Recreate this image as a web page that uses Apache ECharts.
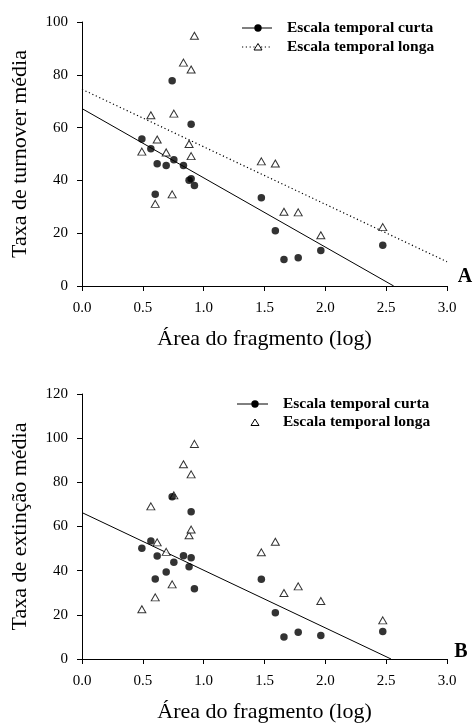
<!DOCTYPE html>
<html>
<head>
<meta charset="utf-8">
<script src="https://cdn.jsdelivr.net/npm/echarts@6/dist/echarts.min.js"></script>
<style>
html,body{margin:0;padding:0;background:#fff;}
#chart{width:474px;height:727px;}
</style>
</head>
<body>
<div id="chart"></div>
<script>
// ---- data ----
const areaLog = [0.492,0.566,0.602,0.618,0.692,0.741,0.755,0.834,0.880,0.897,0.897,0.924,1.474,1.589,1.660,1.777,1.963,2.472];
const turnoverCurta = [55.7,52.0,34.8,46.3,45.6,77.7,47.8,45.6,40.1,40.6,61.3,38.1,33.4,20.9,10.0,10.7,13.4,15.4];
const turnoverLonga = [50.9,64.7,31.1,55.5,50.6,34.7,65.3,84.6,53.8,82.0,49.2,94.8,47.2,46.4,28.1,27.9,19.2,22.3];
const extincaoCurta = [50.1,53.4,36.2,46.6,39.4,73.5,43.8,46.8,41.8,45.9,66.7,31.8,36.1,21.0,10.0,12.1,10.6,12.4];
const extincaoLonga = [22.5,69.1,27.9,52.8,48.5,33.8,74.1,88.2,56.0,83.6,58.6,97.4,48.3,53.1,29.9,32.9,26.3,17.5];
// regression lines: [x, y] endpoints
const fitTurnoverCurta = [[0, 67.2], [2.562, 0]];
const fitTurnoverLonga = [[0, 74.5], [3.0, 9.2]];
const fitExtincaoCurta = [[0, 66.3], [2.54, 0]];
const xTicks = ['0.0','0.5','1.0','1.5','2.0','2.5','3.0'];
const seriesNames = ['Escala temporal curta','Escala temporal longa'];
const xTitle = 'Área do fragmento (log)';
const yTitles = ['Taxa de turnover média','Taxa de extinção média'];
const panelLabels = ['A','B'];

const FONT = '"Liberation Serif","Times New Roman",serif';
const pair = (ys) => areaLog.map((x, i) => [x, ys[i]]);

function xAxisFor(idx) {
  return {
    gridIndex: idx, type: 'value', min: 0, max: 3, interval: 0.5,
    name: xTitle, nameLocation: 'middle', nameGap: 42,
    nameTextStyle: {fontFamily: FONT, fontSize: 22, color: '#000'},
    axisLine: {show: true, lineStyle: {color: '#000', width: 1}},
    axisTick: {show: true, length: 5, inside: false, lineStyle: {color: '#000'}},
    axisLabel: {fontFamily: FONT, fontSize: 15, color: '#000', margin: 15,
      formatter: (v) => xTicks[Math.round(v / 0.5)]},
    splitLine: {show: false}
  };
}
function yAxisFor(idx, max) {
  return {
    gridIndex: idx, type: 'value', min: 0, max: max, interval: 20,
    name: yTitles[idx], nameLocation: 'middle', nameGap: 51,
    nameTextStyle: {fontFamily: FONT, fontSize: 22, color: '#000'},
    axisLine: {show: true, lineStyle: {color: '#000', width: 1}},
    axisTick: {show: true, length: 5, inside: false, lineStyle: {color: '#000'}},
    axisLabel: {fontFamily: FONT, fontSize: 15, color: '#000', margin: 14},
    splitLine: {show: false}
  };
}
const circleStyle = {color: '#000'};
const triStyle = {color: '#fff', borderColor: '#000', borderWidth: 1};

const option = {
  animation: false,
  backgroundColor: '#fff',
  grid: [
    {left: 82, top: 22, width: 365, height: 264},
    {left: 82, top: 394, width: 365, height: 265}
  ],
  xAxis: [xAxisFor(0), xAxisFor(1)],
  yAxis: [yAxisFor(0, 100), yAxisFor(1, 120)],
  series: [
    {type: 'line', xAxisIndex: 0, yAxisIndex: 0, data: fitTurnoverCurta, symbol: 'none',
      lineStyle: {color: '#000', width: 1}, silent: true, z: 1},
    {type: 'line', xAxisIndex: 0, yAxisIndex: 0, data: fitTurnoverLonga, symbol: 'none',
      lineStyle: {color: '#000', width: 1.2, type: [1.2, 2.6]}, silent: true, z: 1},
    {name: seriesNames[0], type: 'scatter', xAxisIndex: 0, yAxisIndex: 0, data: pair(turnoverCurta),
      symbol: 'circle', symbolSize: 7.5, itemStyle: circleStyle, z: 3},
    {name: seriesNames[1], type: 'scatter', xAxisIndex: 0, yAxisIndex: 0, data: pair(turnoverLonga),
      symbol: 'triangle', symbolSize: [8, 7], itemStyle: triStyle, z: 2},
    {type: 'line', xAxisIndex: 1, yAxisIndex: 1, data: fitExtincaoCurta, symbol: 'none',
      lineStyle: {color: '#000', width: 1}, silent: true, z: 1},
    {name: seriesNames[0], type: 'scatter', xAxisIndex: 1, yAxisIndex: 1, data: pair(extincaoCurta),
      symbol: 'circle', symbolSize: 7.5, itemStyle: circleStyle, z: 3},
    {name: seriesNames[1], type: 'scatter', xAxisIndex: 1, yAxisIndex: 1, data: pair(extincaoLonga),
      symbol: 'triangle', symbolSize: [8, 7], itemStyle: triStyle, z: 2}
  ],
  graphic: [
    // legend A
    {type: 'line', shape: {x1: 242, y1: 28, x2: 272, y2: 28}, style: {stroke: '#000', lineWidth: 1}},
    {type: 'circle', shape: {cx: 258, cy: 28, r: 3.7}, style: {fill: '#000'}},
    {type: 'text', style: {text: seriesNames[0], x: 287, y: 28, verticalAlign: 'middle',
      font: 'bold 15.5px ' + FONT, fill: '#000'}},
    {type: 'line', shape: {x1: 242, y1: 47, x2: 272, y2: 47}, style: {stroke: '#000', lineWidth: 1.2, lineDash: [1.2, 2.6]}},
    {type: 'polygon', shape: {points: [[258, 43.5], [262, 50], [254, 50]]}, style: {fill: '#fff', stroke: '#000', lineWidth: 1}},
    {type: 'text', style: {text: seriesNames[1], x: 287, y: 47, verticalAlign: 'middle',
      font: 'bold 15.5px ' + FONT, fill: '#000'}},
    // legend B
    {type: 'line', shape: {x1: 237, y1: 404, x2: 268, y2: 404}, style: {stroke: '#000', lineWidth: 1}},
    {type: 'circle', shape: {cx: 255, cy: 404, r: 3.7}, style: {fill: '#000'}},
    {type: 'text', style: {text: seriesNames[0], x: 283, y: 404, verticalAlign: 'middle',
      font: 'bold 15.5px ' + FONT, fill: '#000'}},
    {type: 'polygon', shape: {points: [[255, 419], [259, 425.5], [251, 425.5]]}, style: {fill: '#fff', stroke: '#000', lineWidth: 1}},
    {type: 'text', style: {text: seriesNames[1], x: 283, y: 422, verticalAlign: 'middle',
      font: 'bold 15.5px ' + FONT, fill: '#000'}},
    // panel labels
    {type: 'text', style: {text: panelLabels[0], x: 465, y: 277, align: 'center', verticalAlign: 'middle',
      font: 'bold 20px ' + FONT, fill: '#000'}},
    {type: 'text', style: {text: panelLabels[1], x: 461, y: 652, align: 'center', verticalAlign: 'middle',
      font: 'bold 20px ' + FONT, fill: '#000'}}
  ]
};
const chart = echarts.init(document.getElementById('chart'), null, {renderer: 'canvas'});
chart.setOption(option);
</script>
</body>
</html>
